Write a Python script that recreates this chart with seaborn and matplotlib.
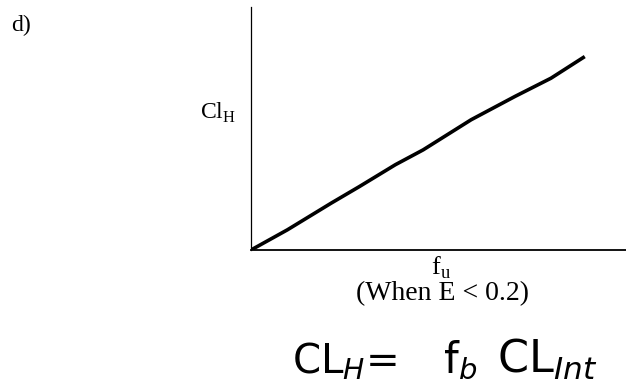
import matplotlib
matplotlib.use("Agg")
import matplotlib.pyplot as plt
import seaborn as sns
import pandas as pd

# Data (relative units, axes 0..1)
fu_values = [0.0, 0.097, 0.214, 0.289, 0.385, 0.459, 0.587, 0.704, 0.800, 0.890]
clh_values = [0.0, 0.083, 0.193, 0.261, 0.351, 0.412, 0.536, 0.632, 0.707, 0.796]
panel_label = "d)"
y_label = "Cl$_\\mathregular{H}$"
x_label = "f$_\\mathregular{u}$"
x_note = "(When E < 0.2)"
handwritten_parts = ["CL$_H$=", "f$_b$", "CL$_{Int}$"]

sns.set_theme(style="white")
plt.rcParams['font.family'] = ['Liberation Serif', 'DejaVu Serif']
plt.rcParams['text.color'] = 'black'

df = pd.DataFrame({"fu": fu_values, "clh": clh_values})

fig = plt.figure(figsize=(6.26, 3.83), dpi=100)
ax = fig.add_axes([251/626, (383-250)/383, 375/626, 243/383])
sns.lineplot(data=df, x="fu", y="clh", ax=ax, color="black", linewidth=2.6,
             solid_capstyle="butt")
ax.set_xlim(0, 1)
ax.set_ylim(0, 1)
ax.set_xticks([])
ax.set_yticks([])
ax.set_xlabel("")
ax.set_ylabel("")
for s in ["top", "right"]:
    ax.spines[s].set_visible(False)
ax.spines["left"].set_color("black")
ax.spines["left"].set_linewidth(0.9)
ax.spines["bottom"].set_color("black")
ax.spines["bottom"].set_linewidth(1.3)

fig.text(11/626, 1 - 25/383, panel_label, fontsize=17, va="center", ha="left")
fig.text(218/626, 1 - 113/383, y_label, fontsize=17, va="center", ha="center")
fig.text(441/626, 1 - 268/383, x_label, fontsize=19, va="center", ha="center")
fig.text(442/626, 1 - 294/383, x_note, fontsize=20, va="center", ha="center")
hw_x = [292, 443, 497]
hw_size = [29, 30, 32]
for txt, xp, fs in zip(handwritten_parts, hw_x, hw_size):
    fig.text(xp/626, 1 - 373/383, txt, fontsize=fs, va="baseline",
             ha="left", family=['DejaVu Sans'])

fig.savefig("out.png", dpi=100, facecolor="white")
